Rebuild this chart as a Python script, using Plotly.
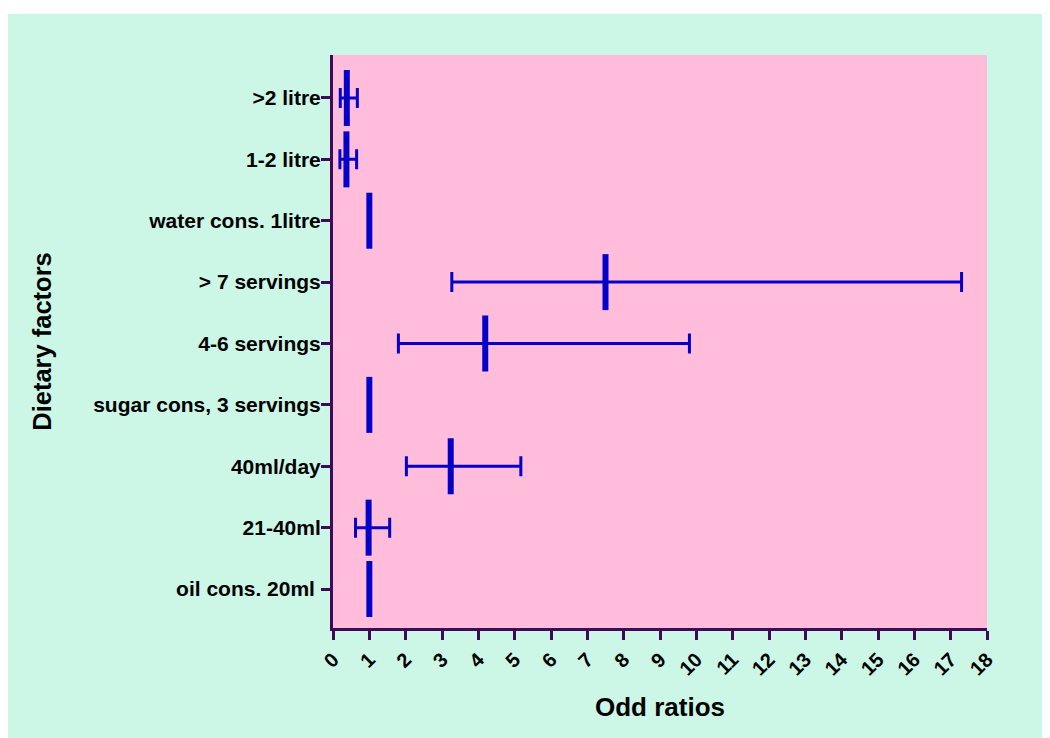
import plotly.graph_objects as go

categories = ["oil cons. 20ml ", "21-40ml", "40ml/day", "sugar cons, 3 servings",
              "4-6 servings", "> 7 servings", "water cons. 1litre", "1-2 litre", ">2 litre"]
odds_ratio = [1.0, 0.98, 3.24, 1.0, 4.19, 7.5, 1.0, 0.37, 0.38]
ci_lower = [1.0, 0.62, 2.02, 1.0, 1.80, 3.27, 1.0, 0.19, 0.20]
ci_upper = [1.0, 1.56, 5.17, 1.0, 9.81, 17.30, 1.0, 0.65, 0.67]
x_ticks = list(range(0, 19))

err_plus = [u - o for u, o in zip(ci_upper, odds_ratio)]
err_minus = [o - l for o, l in zip(odds_ratio, ci_lower)]

AXIS = "#3d0a57"
BLUE = "#0500c8"
FONT = "Liberation Sans, Arial, sans-serif"

W, H = 1050, 738
L, T, R, B = 325, 47, 71, 118
PW, PH = W - L - R, H - T - B

fig = go.Figure()
fig.add_trace(go.Scatter(
    x=odds_ratio, y=categories, mode="markers",
    marker=dict(symbol="line-ns", size=40, color=BLUE, line=dict(width=6, color=BLUE)),
    error_x=dict(type="data", symmetric=False, array=err_plus, arrayminus=err_minus,
                 color=BLUE, thickness=3, width=10),
    showlegend=False, hoverinfo="x+y",
))

# mint panel behind everything
fig.add_shape(type="rect", xref="paper", yref="paper",
              x0=-L / PW, x1=(W - L) / PW,
              y0=-B / PH, y1=1 + (T - 6) / PH,
              fillcolor="#ccf7e6", line=dict(width=0), layer="below")
# pink plot area
fig.add_shape(type="rect", xref="paper", yref="paper",
              x0=0, x1=1, y0=0, y1=1,
              fillcolor="#ffbddb", line=dict(width=0), layer="below")

fig.update_layout(
    width=W, height=H,
    margin=dict(l=L, r=R, t=T, b=B),
    paper_bgcolor="white", plot_bgcolor="#ffbddb",
    font=dict(family=FONT, color="black"),
    xaxis=dict(range=[0, 18], tickmode="array", tickvals=x_ticks,
               ticktext=[str(v) for v in x_ticks], tickangle=-45,
               showgrid=False, zeroline=False,
               showline=True, linecolor=AXIS, linewidth=3,
               ticks="outside", ticklen=9, tickwidth=2.5, tickcolor=AXIS,
               tickfont=dict(size=20, family=FONT, weight="bold"),
               title=dict(text="<b>Odd ratios</b>", font=dict(size=26, family=FONT), standoff=20)),
    yaxis=dict(type="category", categoryorder="array", categoryarray=categories,
               range=[-0.635, 8.70], showgrid=False, zeroline=False,
               showline=True, linecolor=AXIS, linewidth=3,
               ticks="outside", ticklen=9, tickwidth=2.5, tickcolor=AXIS,
               ticklabelstandoff=-4,
               tickfont=dict(size=21, family=FONT, weight="bold"),
               title=dict(text="<b>Dietary factors</b>", font=dict(size=25.5, family=FONT), standoff=35)),
)

fig.write_html("out.html")
